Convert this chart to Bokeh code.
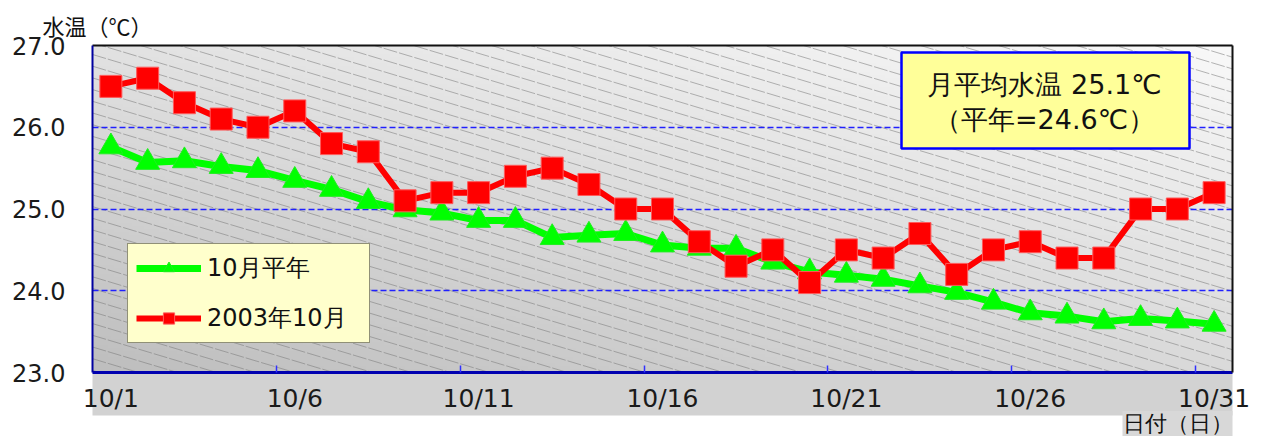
import numpy as np
from bokeh.plotting import figure
from bokeh.models import (Range1d, FixedTicker, LinearAxis, Label, BoxAnnotation,
                          Legend, LegendItem, PrintfTickFormatter, Title)
from bokeh.embed import file_html
from bokeh.resources import INLINE

# ---------------- data ----------------
dates = ["10/1", "10/2", "10/3", "10/4", "10/5", "10/6", "10/7", "10/8", "10/9", "10/10",
         "10/11", "10/12", "10/13", "10/14", "10/15", "10/16", "10/17", "10/18", "10/19", "10/20",
         "10/21", "10/22", "10/23", "10/24", "10/25", "10/26", "10/27", "10/28", "10/29", "10/30", "10/31"]
normal = [25.76, 25.57, 25.59, 25.52, 25.47, 25.35, 25.24, 25.09, 24.99, 24.95,
          24.86, 24.86, 24.65, 24.68, 24.70, 24.56, 24.52, 24.52, 24.35, 24.23,
          24.19, 24.14, 24.06, 23.98, 23.86, 23.73, 23.69, 23.62, 23.66, 23.63, 23.59]
y2003 = [26.5, 26.6, 26.3, 26.1, 26.0, 26.2, 25.8, 25.7, 25.1, 25.2,
         25.2, 25.4, 25.5, 25.3, 25.0, 25.0, 24.6, 24.3, 24.5, 24.1,
         24.5, 24.4, 24.7, 24.2, 24.5, 24.6, 24.4, 24.4, 25.0, 25.0, 25.2]
tick_labels = ["10/1", "10/6", "10/11", "10/16", "10/21", "10/26", "10/31"]
y_ticks = [23, 24, 25, 26, 27]
grid_vals = [24, 25, 26]
legend_labels = ["10月平年", "2003年10月"]
note_lines = ["月平均水温 25.1℃", "（平年=24.6℃）"]
y_title = "水温（℃）"
x_title = "日付（日）"

x = [i + 1 for i in range(len(dates))]
tick_days = [x[dates.index(t)] for t in tick_labels]

# ---------------- geometry ----------------
W, H = 1263, 439
FL, FT, FR, FB = 92, 45, 1232, 372   # frame box in pixels
X0, X1 = 0.5, len(dates) + 0.5
Y0, Y1 = 23, 27
PW, PH = FR - FL, FB - FT


def X(sx):  # pixel -> data x
    return X0 + (sx - FL) * (X1 - X0) / PW


def Y(sy):  # pixel -> data y
    return Y1 - (sy - FT) * (Y1 - Y0) / PH


p = figure(width=W, height=H, output_backend="svg", toolbar_location=None,
           x_range=Range1d(X0, X1), y_range=Range1d(Y0, Y1),
           min_border_left=FL, min_border_right=W - FR,
           min_border_top=FT, min_border_bottom=H - FB)
p.border_fill_color = "white"
p.background_fill_color = "#d8d8d8"
p.outline_line_color = None

# ---------------- y title (outside the frame) ----------------
p.title.text = y_title
p.title.align = "left"
p.title.offset = -50
p.title.standoff = 10
p.title.text_font = "Noto Sans CJK JP"
p.title.text_font_size = "22px"
p.title.text_font_style = "normal"
p.title.text_color = "#111111"

# ---------------- plot-area gradient + hatching ----------------
ny, nx = 110, 380
u = np.linspace(0, 1, nx)[None, :]
v = np.linspace(0, 1, ny)[:, None]
gray = 190 * (1 - u) * (1 - v) + 218 * u * (1 - v) + 226 * (1 - u) * v + 249 * u * v
img = np.empty((ny, nx), dtype=np.uint32)
view = img.view(dtype=np.uint8).reshape((ny, nx, 4))
view[..., 0] = gray
view[..., 1] = gray
view[..., 2] = gray
view[..., 3] = 255
p.image_rgba(image=[img], x=X0, y=Y0, dw=X1 - X0, dh=Y1 - Y0, level="image")

slope, gap = 0.3, 11.7
cs = np.arange(-slope * PW, PH + gap, gap)
hx = [[X0, X1] for c in cs]
hy = [[Y1 - c * (Y1 - Y0) / PH, Y1 - (c + slope * PW) * (Y1 - Y0) / PH] for c in cs]
p.multi_line(hx, hy, line_color="#7a7a7a", line_width=1, line_alpha=0.55,
             line_dash="14 2", level="image")

# ---------------- grid ----------------
p.xgrid.grid_line_color = None
p.ygrid.ticker = FixedTicker(ticks=grid_vals)
p.ygrid.grid_line_color = "#2020ff"
p.ygrid.grid_line_width = 1.5
p.ygrid.grid_line_dash = "6 3"

# ---------------- series ----------------
r1 = p.line(x, normal, line_color="#00ff00", line_width=7)
s1 = p.scatter(x, normal, marker="triangle", size=24, fill_color="#00ff00", line_color="#20ee20")
r2 = p.line(x, y2003, line_color="#ff0000", line_width=6)
s2 = p.scatter(x, y2003, marker="square", size=22, fill_color="#ff0000", line_color="#ff5a5a")

# ---------------- axes ----------------
xa = p.xaxis[0]
xa.ticker = FixedTicker(ticks=tick_days, minor_ticks=[d - 0.5 for d in tick_days[1:]])
xa.major_label_overrides = {d: lab for d, lab in zip(tick_days, tick_labels)}
xa.major_tick_line_color = None
xa.major_tick_out = 0
xa.major_tick_in = 0
xa.minor_tick_line_color = "#3030ff"
xa.minor_tick_line_width = 1.5
xa.minor_tick_in = 7
xa.minor_tick_out = 0
xa.axis_line_color = "#0000b0"
xa.axis_line_width = 3
xa.major_label_text_font = "DejaVu Sans"
xa.major_label_text_font_size = "25px"
xa.major_label_text_color = "#1a1a1a"
xa.major_label_standoff = 11
if hasattr(xa, "background_fill_color"):
    xa.background_fill_color = "#d2d2d2"
    xa.background_fill_alpha = 1

ya = p.yaxis[0]
ya.ticker = FixedTicker(ticks=y_ticks)
ya.formatter = PrintfTickFormatter(format="%.1f")
ya.major_tick_line_color = None
ya.minor_tick_line_color = None
ya.major_tick_out = 0
ya.major_tick_in = 0
ya.axis_line_color = "#0000a0"
ya.axis_line_width = 2
ya.major_label_text_font = "DejaVu Sans"
ya.major_label_text_font_size = "24px"
ya.major_label_text_color = "#1a1a1a"
ya.major_label_standoff = 27

for loc in ("above", "right"):
    ax = LinearAxis(ticker=FixedTicker(ticks=[]), axis_line_color="#111111", axis_line_width=2,
                    major_tick_line_color=None, minor_tick_line_color=None,
                    major_label_text_font_size="0px", major_tick_out=0, major_tick_in=0,
                    minor_tick_out=0, minor_tick_in=0, major_label_standoff=0)
    p.add_layout(ax, loc)

p.add_layout(Title(text=x_title, align="right", offset=0, standoff=-9, vertical_align="top",
                   text_font="DejaVu Sans", text_font_size="22px", text_font_style="normal",
                   text_color="#111111", background_fill_color="#d8d8d8"), "below")

# ---------------- legend ----------------
legend = Legend(items=[LegendItem(label=legend_labels[0], renderers=[r1, s1]),
                       LegendItem(label=legend_labels[1], renderers=[r2, s2])],
                location=(35, 29), orientation="vertical",
                label_text_font="DejaVu Sans", label_text_font_size="24px",
                label_text_color="#111111",
                glyph_width=65, glyph_height=28, label_height=28, label_standoff=6,
                label_width=154,
                spacing=18, padding=8, margin=0,
                background_fill_color="#ffffcc", background_fill_alpha=1,
                border_line_color="#222222", border_line_width=1.5)
p.add_layout(legend)

# ---------------- note box ----------------
p.add_layout(BoxAnnotation(left=X(901), right=X(1189), top=Y(52), bottom=Y(148),
                           fill_color="#ffff99", fill_alpha=1,
                           line_color="#0000ff", line_width=2.5, line_alpha=1))
p.add_layout(Label(x=X(1044), y=Y(84), text=note_lines[0], text_align="center",
                   text_baseline="middle", text_font="DejaVu Sans", text_font_size="27px",
                   text_color="#111111"))
p.add_layout(Label(x=X(1044), y=Y(119), text=note_lines[1], text_align="center",
                   text_baseline="middle", text_font="DejaVu Sans", text_font_size="27px",
                   text_color="#111111"))

open("out.html", "w").write(file_html(p, INLINE))
